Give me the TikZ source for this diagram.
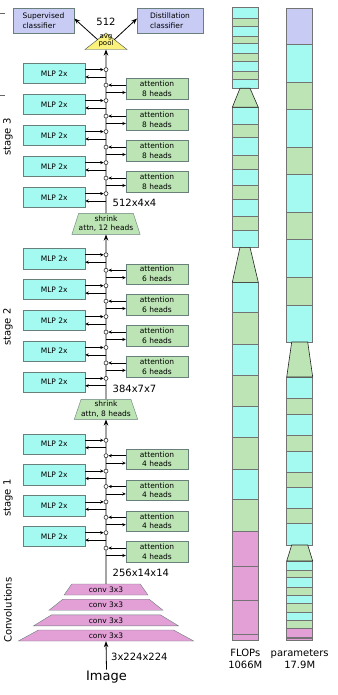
\documentclass[tikz,border=0pt]{standalone}
\usepackage{fontspec}
\setmainfont{DejaVu Sans}
\usepackage{tikz}
\usetikzlibrary{arrows.meta,positioning,shapes.geometric,calc}
\usepackage{xcolor}
\definecolor{mlpcyan}{RGB}{164,250,240}
\definecolor{attgreen}{RGB}{188,228,180}
\definecolor{convpink}{RGB}{226,160,214}
\definecolor{clslav}{RGB}{200,204,244}
\definecolor{poolyel}{RGB}{250,242,122}
\definecolor{edgegray}{RGB}{105,128,122}

\begin{document}
\begin{tikzpicture}[
    x=1pt,y=-1pt,
    mlp/.style={rectangle,draw=edgegray,fill=mlpcyan,minimum width=61.7pt,minimum height=20.5pt,inner sep=0pt,font=\fontsize{7.5}{9.5}\selectfont},
    attn/.style={mlp,fill=attgreen,minimum width=62pt,align=center},
    cls/.style={mlp,fill=clslav,minimum height=25pt,align=left},
    shrink/.style={trapezium,trapezium stretches=true,trapezium angle=67,draw=edgegray,fill=attgreen,minimum width=62.7pt,minimum height=21pt,inner sep=0pt,align=center,font=\fontsize{7.5}{9.5}\selectfont},
    conv/.style={trapezium,trapezium stretches=true,draw=edgegray,fill=convpink,minimum height=11pt,inner sep=0pt,font=\fontsize{7.5}{8}\selectfont},
    sumnode/.style={circle,draw=black!80,fill=white,minimum size=4pt,inner sep=0pt,line width=0.6pt},
    res/.style={-{Stealth[length=3.5pt,width=3.2pt]},line width=0.7pt},
    trunk/.style={-{Stealth[length=6pt,width=4.5pt]},line width=0.8pt},
    dimlabel/.style={anchor=west,inner sep=0pt,font=\fontsize{10}{12}\selectfont},
    stagelabel/.style={rotate=90,inner sep=0pt,font=\fontsize{10}{12}\selectfont},
    barseg/.style={draw=black!55,line width=0.6pt},
    bartrap/.style={draw=black!85,fill=attgreen,line width=0.6pt},
    barlabel/.style={align=center,inner sep=0pt,font=\fontsize{10}{12.3}\selectfont},
  ]
    \fill[white] (0,0) rectangle (337,695);
    \useasboundingbox (0,0) rectangle (337,695);

    % classifiers and pooling
    \node[cls,minimum width=61.3pt] (supcls) at (43.4,20.5) {Supervised\\classifier};
    \node[cls,minimum width=65.5pt] (discls) at (170,20.5) {Distillation\\classifier};
    \coordinate (poolapex) at (106,33);
    \coordinate (poolbl) at (85,49.5);
    \coordinate (poolbr) at (127,49.5);
    \coordinate (poolbase) at (106,49.5);
    \draw[edgegray!60!black,fill=poolyel] (poolapex) -- (poolbl) -- (poolbr) -- cycle;
    \node[align=center,inner sep=0pt,font=\fontsize{7}{7.3}\selectfont] (pool) at (106,41) {avg\\pool};
    \node[inner sep=0pt,font=\fontsize{10}{12}\selectfont] (poolout) at (106,22) {512};
    \draw[trunk] ($(poolapex)!0.4!(poolbl)$) -- ([yshift=2pt]supcls.east);
    \draw[trunk] ($(poolapex)!0.4!(poolbr)$) -- ([yshift=2pt]discls.west);

    % shrinking attention between stages
    \node[shrink] (shrink12) at (106,223.8) {shrink\\attn, 12 heads};
    \node[shrink,minimum height=20pt] (shrink8) at (106,409.3) {shrink\\attn, 8 heads};

    % convolution stem
    \node[conv,trapezium angle=56,minimum width=84pt] (conv1) at (106,589.5) {conv 3x3};
    \node[conv,trapezium angle=46,minimum width=114pt] (conv2) at (106,604.7) {conv 3x3};
    \node[conv,trapezium angle=45,minimum width=145pt] (conv3) at (106,620.3) {conv 3x3};
    \node[conv,trapezium angle=48,minimum width=176pt] (conv4) at (106,635.5) {conv 3x3};
    \node[inner sep=1pt,font=\fontsize{13}{15}\selectfont] (image) at (106.5,677) {Image};

    % trunk
    \draw[trunk] (image.north) -- (conv4.south);
    \draw[trunk] (conv1.north) -- (shrink8.south);
    \draw[trunk] (shrink8.north) -- (shrink12.south);
    \draw[trunk] (shrink12.north) -- (poolbase);

    % residual blocks
    \foreach \s/\yo/\gap/\nm/\hd in {3/73.3/31/5/8, 2/258.5/30.9/5/6, 1/444/30.8/4/4} {
      \foreach \i in {1,...,\nm} {
        \pgfmathsetmacro\ym{\yo+\gap*(\i-1)}
        \node[mlp] (mlp\s\i) at (54.2,\ym) {MLP 2x};
        \node[sumnode] (msum\s\i) at (106,\ym-3.7) {};
        \coordinate (mtap\s\i) at (106,\ym+3.7);
        \draw[res] (mlp\s\i.east |- msum\s\i) -- (msum\s\i);
        \draw[res] (mtap\s\i) -- (mtap\s\i -| mlp\s\i.east);
      }
      \foreach \i in {1,...,4} {
        \pgfmathsetmacro\ya{\yo+\gap*(\i-0.5)}
        \node[attn] (att\s\i) at (157,\ya) {attention\\\hd{} heads};
        \node[sumnode] (asum\s\i) at (106,\ya-3.7) {};
        \coordinate (atap\s\i) at (106,\ya+3.7);
        \draw[res] (att\s\i.west |- asum\s\i) -- (asum\s\i);
        \draw[res] (atap\s\i) -- (atap\s\i -| att\s\i.west);
      }
    }

    % tensor sizes
    \node[dimlabel] (dim3) at (112.5,202.7) {512x4x4};
    \node[dimlabel] (dim2) at (112.5,389.3) {384x7x7};
    \node[dimlabel] (dim1) at (112.5,573.3) {256x14x14};
    \node[dimlabel] (diminput) at (111,657.3) {3x224x224};

    % stage names
    \node[stagelabel] (stage3) at (8,137) {stage 3};
    \node[stagelabel] (stage2) at (8,327) {stage 2};
    \node[stagelabel] (stage1) at (8,498) {stage 1};
    \node[stagelabel] (stemlbl) at (8,610) {Convolutions};
    \draw[black!60] (0,13.3) -- (5,13.3);
    \draw[black!60] (0,95) -- (5,95);

    % FLOPs bar
    \foreach \ya/\yb/\c in {7.7/18.3/mlpcyan, 18.3/26/attgreen, 26/36/mlpcyan, 36/43.3/attgreen, 43.3/53.3/mlpcyan,
        53.3/61/attgreen, 61/71/mlpcyan, 71/79/attgreen, 79/88.3/mlpcyan,
        107.3/124.3/mlpcyan, 124.3/137.7/attgreen, 137.7/155/mlpcyan, 155/169.3/attgreen, 169.3/185.7/mlpcyan,
        185.7/199.3/attgreen, 199.3/216.7/mlpcyan, 216.7/230/attgreen, 230/247.3/mlpcyan,
        282.3/312.7/mlpcyan, 312.7/344.3/attgreen, 344.3/375.7/mlpcyan, 375.7/406.7/attgreen,
        406.7/437.3/mlpcyan, 437.3/469.3/attgreen, 469.3/499.3/mlpcyan, 499.3/531/attgreen,
        531/566/convpink, 566/600/convpink, 600/634/convpink, 634/640/convpink}
      \draw[barseg,fill=\c] (232.3,\ya) rectangle (258.3,\yb);
    \draw[bartrap] (240,88.3) -- (250,88.3) -- (258.3,107.3) -- (232.3,107.3) -- cycle;
    \draw[bartrap] (240,247.3) -- (250,247.3) -- (258.3,282.3) -- (232.3,282.3) -- cycle;

    % parameters bar
    \foreach \ya/\yb/\c in {8/44/clslav, 44/82/mlpcyan, 82/109/attgreen, 109/147/mlpcyan, 147/174/attgreen,
        174/212/mlpcyan, 212/239/attgreen, 239/277/mlpcyan, 277/305/attgreen, 305/342/mlpcyan,
        377/398/mlpcyan, 398/414/attgreen, 414/435/mlpcyan, 435/451/attgreen, 451/472/mlpcyan,
        472/487/attgreen, 487/508/mlpcyan, 508/523/attgreen, 523/545/mlpcyan,
        561/570/mlpcyan, 570/577/attgreen, 577/587/mlpcyan, 587/595/attgreen, 595/603/mlpcyan,
        603/612/attgreen, 612/620/mlpcyan, 620/628/attgreen,
        628/637/convpink, 637/638.5/convpink, 638.5/640/convpink}
      \draw[barseg,fill=\c] (286.7,\ya) rectangle (312.7,\yb);
    \draw[bartrap] (291.7,342) -- (307.7,342) -- (312.7,377) -- (286.7,377) -- cycle;
    \draw[bartrap] (291.7,545) -- (307.7,545) -- (312.7,561) -- (286.7,561) -- cycle;

    \node[barlabel] (flopslbl) at (245.3,659) {FLOPs\\1066M};
    \node[barlabel] (paramlbl) at (299.7,659) {parameters\\17.9M};
  \end{tikzpicture}
\end{document}
